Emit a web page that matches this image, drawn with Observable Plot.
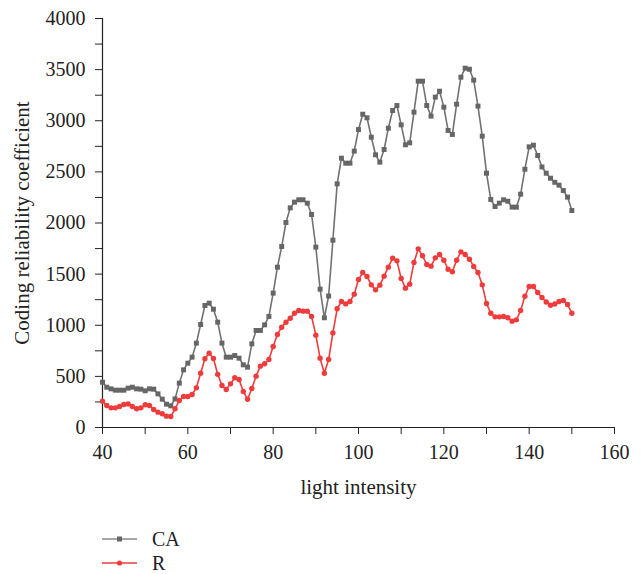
<!DOCTYPE html>
<html><head><meta charset="utf-8">
<script src="https://cdn.jsdelivr.net/npm/d3@7"></script>
<script src="https://cdn.jsdelivr.net/npm/@observablehq/plot@0.6"></script>
<style>
body{margin:0;background:#fff;font-family:"Liberation Serif",serif;}
#wrap{position:relative;width:643px;height:574px;overflow:hidden;}
.leg{position:absolute;left:102px;display:flex;align-items:center;font-size:20px;line-height:18px;color:#222;height:18px;}
.leg svg{margin-right:15px;}
</style></head><body>
<div id="wrap"><div id="chart"></div>
<div class="leg" style="top:530px"><svg width="35" height="10"><line x1="0" y1="5" x2="35" y2="5" stroke="#8a8a8a" stroke-width="1.6"/><rect x="15" y="2.5" width="5" height="5" fill="#666"/></svg><span id="l1"></span></div>
<div class="leg" style="top:554px"><svg width="35" height="10"><line x1="0" y1="5" x2="35" y2="5" stroke="#ee3b3b" stroke-width="1.6"/><circle cx="17.5" cy="5" r="2.6" fill="#ee3b3b"/></svg><span id="l2"></span></div>
</div>
<script>
const seriesNames = ["CA", "R"];
const lightIntensity = [40,41,42,43,44,45,46,47,48,49,50,51,52,53,54,55,56,57,58,59,60,61,62,63,64,65,66,67,68,69,70,71,72,73,74,75,76,77,78,79,80,81,82,83,84,85,86,87,88,89,90,91,92,93,94,95,96,97,98,99,100,101,102,103,104,105,106,107,108,109,110,111,112,113,114,115,116,117,118,119,120,121,122,123,124,125,126,127,128,129,130,131,132,133,134,135,136,137,138,139,140,141,142,143,144,145,146,147,148,149,150];
const caValues = [443,394,378,365,365,365,385,394,378,375,359,378,375,329,277,228,212,280,434,564,629,688,825,1007,1193,1216,1157,1030,825,688,688,704,678,613,590,818,949,949,1004,1086,1314,1568,1770,2005,2148,2204,2227,2227,2194,2083,1764,1353,1073,1286,1832,2383,2634,2585,2585,2703,2914,3064,3029,2839,2667,2595,2719,2927,3100,3149,2960,2765,2784,3084,3387,3387,3149,3045,3231,3289,3133,2905,2866,3162,3426,3514,3504,3397,3143,2849,2487,2230,2161,2194,2227,2213,2155,2155,2282,2526,2745,2761,2660,2548,2487,2438,2398,2370,2318,2253,2122];
const rValues = [257,215,192,192,205,225,231,205,183,192,222,215,176,150,134,111,108,183,264,303,303,323,388,531,672,727,675,520,411,372,427,486,469,352,277,381,502,600,623,665,792,910,981,1030,1069,1118,1144,1138,1138,1086,903,678,531,665,925,1161,1232,1209,1232,1304,1447,1516,1477,1395,1346,1392,1480,1568,1656,1630,1457,1363,1402,1614,1747,1679,1594,1578,1659,1692,1636,1548,1523,1636,1718,1692,1646,1575,1516,1395,1213,1118,1082,1082,1086,1073,1040,1053,1144,1284,1379,1379,1320,1272,1228,1196,1208,1232,1242,1203,1118];
const xTicks = [40,60,80,100,120,140,160];
const xMinorTicks = [50,70,90,110,130,150];
const yTicks = [0,500,1000,1500,2000,2500,3000,3500,4000];
const yMinorTicks = [250,750,1250,1750,2250,2750,3250,3750];
const xTitle = "light intensity";
const yTitle = "Coding reliability coefficient";

const ca = lightIntensity.map((x,i)=>({x, y: caValues[i]}));
const r = lightIntensity.map((x,i)=>({x, y: rValues[i]}));

const chart = Plot.plot({
  width: 643, height: 505,
  marginLeft: 102, marginRight: 29, marginTop: 18, marginBottom: 78,
  style: {fontFamily: "Liberation Serif, serif", fontSize: "20px", color: "#222", background: "#fff"},
  x: {domain: [40, 160]},
  y: {domain: [0, 4000]},
  marks: [
    Plot.axisY({ticks: yTicks, tickSize: 7, tickPadding: 10, label: null, tickFormat: d => String(d)}),
    Plot.axisY({ticks: yMinorTicks, tickSize: 7, tickFormat: () => "", label: null}),
    Plot.axisX({ticks: xTicks, tickSize: 7, tickPadding: 10, label: null, tickFormat: d => String(d)}),
    Plot.axisX({ticks: xMinorTicks, tickSize: 7, tickFormat: () => "", label: null}),
    Plot.ruleX([40], {stroke: "#222", strokeWidth: 1.2}),
    Plot.ruleY([0], {stroke: "#222", strokeWidth: 1.2}),
    Plot.line(ca, {x: "x", y: "y", stroke: "#727272", strokeWidth: 1.6}),
    Plot.dot(ca, {x: "x", y: "y", symbol: "square", fill: "#666", r: 2.8}),
    Plot.line(r, {x: "x", y: "y", stroke: "#ee3b3b", strokeWidth: 1.6}),
    Plot.dot(r, {x: "x", y: "y", symbol: "circle", fill: "#ee3b3b", r: 2.7}),
    Plot.text([xTitle], {text: d => d, frameAnchor: "bottom", dy: 66, fontSize: 21, fill: "#222"}),
    Plot.text([yTitle], {text: d => d, frameAnchor: "left", textAnchor: "middle", rotate: -90, dx: -80, fontSize: 21, fill: "#222"})
  ]
});
document.getElementById("chart").appendChild(chart);
document.getElementById("l1").textContent = seriesNames[0];
document.getElementById("l2").textContent = seriesNames[1];
</script>
</body></html>
